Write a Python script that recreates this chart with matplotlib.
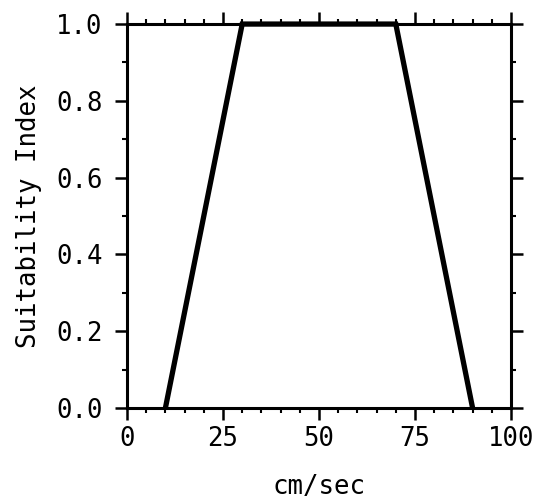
import matplotlib
matplotlib.use("Agg")
import matplotlib.pyplot as plt
from matplotlib.ticker import MultipleLocator

# suitability curve breakpoints (velocity, index)
velocity = [10, 30, 70, 90]
suitability = [0.0, 1.0, 1.0, 0.0]

x_ticks = [0, 25, 50, 75, 100]
y_ticks = [0.0, 0.2, 0.4, 0.6, 0.8, 1.0]

plt.rcParams['font.family'] = ['DejaVu Sans Mono']

fig = plt.figure(figsize=(5.51, 5.01), dpi=100)
ax = fig.add_axes([0.2305, 0.1856, 0.6969, 0.7664])

ax.plot(velocity, suitability, color='black', lw=3.8, solid_capstyle='butt',
        solid_joinstyle='miter', clip_on=False)

ax.set_xlim(0, 100)
ax.set_ylim(0, 1.0)
ax.set_xticks(x_ticks)
ax.set_yticks(y_ticks)
ax.set_yticklabels([f"{v:.1f}" for v in y_ticks])
ax.xaxis.set_minor_locator(MultipleLocator(5))
ax.yaxis.set_minor_locator(MultipleLocator(0.1))

for s in ax.spines.values():
    s.set_linewidth(2.2)

ax.tick_params(which='major', direction='out', length=8.6, width=1.8,
               top=True, right=True, labelsize=18.5)
ax.tick_params(which='minor', direction='out', length=3.5, width=1.5,
               top=True, right=True)
ax.tick_params(axis='y', which='major', pad=9)
ax.tick_params(axis='x', which='major', pad=4)

ax.set_xlabel('cm/sec', fontsize=18.5, labelpad=16)
ax.set_ylabel('Suitability Index', fontsize=18.5, labelpad=10)

fig.savefig('out.png', dpi=100)
